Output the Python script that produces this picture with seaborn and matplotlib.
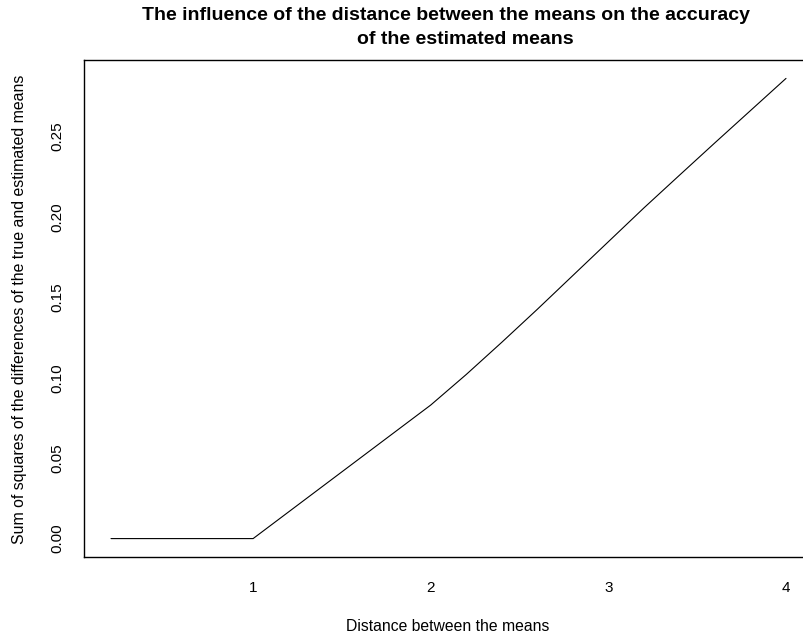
import numpy as np
import pandas as pd
import matplotlib
matplotlib.use("Agg")
import matplotlib.pyplot as plt
import seaborn as sns

distance = [0.2, 0.4, 0.6, 0.8, 1.0, 1.2, 1.4, 1.6, 1.8, 2.0,
            2.2, 2.4, 2.6, 2.8, 3.0, 3.2, 3.4, 3.6, 3.8, 4.0]
sum_sq = [0.0, 0.0, 0.0, 0.0, 0.0, 0.0166, 0.0332, 0.0498, 0.0664, 0.083,
          0.102, 0.122, 0.1425, 0.1635, 0.1845, 0.2055, 0.2258, 0.246, 0.266, 0.286]
xticks = [1, 2, 3, 4]
yticks = [0.00, 0.05, 0.10, 0.15, 0.20, 0.25]
title_lines = ["The influence of the distance between the means on the accuracy",
               "of the estimated means"]

sns.set_style("white")
plt.rcParams['font.family'] = ['Liberation Sans', 'DejaVu Sans']
plt.rcParams['text.color'] = 'black'
plt.rcParams['axes.labelcolor'] = 'black'

df = pd.DataFrame({"distance": distance, "sum_sq": sum_sq})

fig = plt.figure(figsize=(8.04, 6.39), dpi=100)
W, H = 804, 639
left, right, top, bottom = 84, 813, 60, 557
ax = fig.add_axes([left / W, (H - bottom) / H, (right - left) / W, (bottom - top) / H])

sns.lineplot(data=df, x="distance", y="sum_sq", ax=ax, color="black", linewidth=0.8)

ax.set_xlim(0.048, 4.152)
ax.set_ylim(-0.01144, 0.29744)
ax.set_xticks(xticks)
ax.set_xticklabels([str(t) for t in xticks])
ax.set_yticks(yticks)
ax.set_yticklabels([f"{t:.2f}" for t in yticks], rotation=90, va="center")

for s in ax.spines.values():
    s.set_color("black")
    s.set_linewidth(1.0)

fs = 11
ax.tick_params(axis="both", which="both", direction="out", length=7, width=0.8,
               color="#333333", labelsize=fs, labelcolor="black")
ax.tick_params(axis="x", pad=10)
ax.tick_params(axis="y", pad=7)

ax.set_xlabel("Distance between the means", fontsize=11.3)
ax.set_ylabel("Sum of squares of the differences of the true and estimated means", fontsize=11.4)
ax.xaxis.set_label_coords((448 - left) / (right - left), -(619 - bottom) / (bottom - top))
ax.yaxis.set_label_coords(-(left - 27) / (right - left), (308 - top) / (bottom - top))
ax.yaxis.label.set_va("bottom")

fig.text(446.5 / W, 1 - 20 / H, title_lines[0],
         ha="center", va="baseline", fontsize=14, fontweight="bold")
fig.text(465.5 / W, 1 - 44 / H, title_lines[1],
         ha="center", va="baseline", fontsize=14, fontweight="bold")

fig.savefig("out.png", dpi=100, facecolor="white")
